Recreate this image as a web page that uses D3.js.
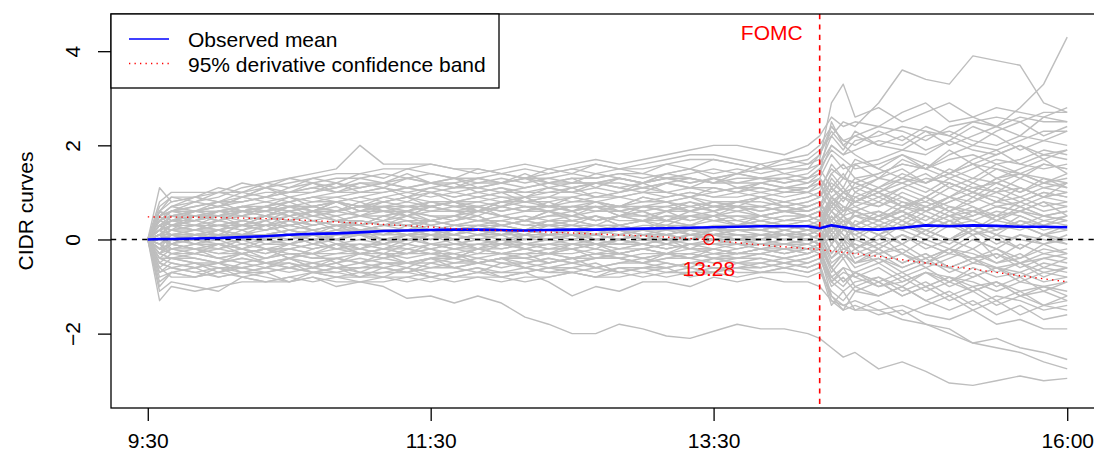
<!DOCTYPE html>
<html>
<head>
<meta charset="utf-8">
<script src="https://cdn.jsdelivr.net/npm/d3@7"></script>
<style>
  body { margin: 0; background: #fff; }
  svg { display: block; }
  text { font-family: "Liberation Sans", Arial, Helvetica, sans-serif; }
</style>
</head>
<body>
<svg id="chart" width="1094" height="457"></svg>
<script>
// Sampling times of the intraday curves (trading session 9:30 - 16:00)
const times = ["9:30","9:35","9:40","9:50","10:00","10:10","10:20","10:30","10:40","10:50","11:00",
  "11:10","11:20","11:30","11:40","11:50","12:00","12:10","12:20",
  "12:30","12:40","12:50","13:00","13:10","13:20","13:30","13:40",
  "13:50","14:00","14:10","14:15","14:20","14:25","14:30",
  "14:40","14:50","15:00","15:10","15:20","15:30","15:40","15:50","16:00"];

// Individual CIDR curves (one value per sampling time)
const curve01 = [0,.8,1.0, 1.0,1.0,1.2,1.1,1.3,1.4,1.5,2.0, 1.6,1.6,1.6,1.5,1.4,1.5,1.6,1.5, 1.6,1.7,1.6,1.7,1.8,1.9,2.0,2.0, 1.9,1.8,2.0, 2.2,2.6,2.4,2.5, 2.4,2.7,2.9,2.5,2.6,2.8,2.7,2.6,2.8];
const curve02 = [0,.5,.7, .8,.9,1.1,1.2,1.3,1.2,1.3,1.3, 1.4,1.3,1.4,1.3,1.3,1.4,1.3,1.4, 1.5,1.4,1.5,1.5,1.6,1.7,1.7,1.6, 1.5,1.6,1.7, 1.9,2.2,2.5,2.4, 2.9,3.6,3.4,3.3,3.9,3.8,3.7,2.9,2.7];
const curve03 = [0,.3,.4, .5,.6,.6,.7,.8,.9,.8,.9, 1.0,1.1,1.0,.9,1.0,1.1,1.0,1.0, 1.1,1.2,1.1,1.2,1.3,1.2,1.3,1.4, 1.3,1.3,1.4, 1.6,2.0,1.8,2.1, 2.2,2.4,2.3,2.2,2.5,2.4,2.8,3.3,4.3];
const curve04 = [0,.4,.6, .7,.8,.8,.9,1.0,1.1,1.0,1.1, 1.2,1.1,1.2,1.1,1.2,1.2,1.3,1.2, 1.3,1.3,1.4,1.4,1.3,1.4,1.5,1.4, 1.5,1.5,1.6, 1.7,2.9,3.3,2.6, 2.8,2.5,2.7,2.9,2.6,2.4,2.6,2.5,2.5];
const curve05 = [0,.6,.9, .9,1.0,1.0,1.1,1.2,1.3,1.4,1.4, 1.5,1.5,1.6,1.5,1.5,1.4,1.5,1.4, 1.5,1.6,1.5,1.6,1.7,1.8,1.8,1.7, 1.6,1.7,1.8, 2.0,2.4,2.1,2.2, 2.0,1.9,2.2,2.3,2.1,2.0,2.2,2.1,2.0];
const curve06 = [0,.3,.5, .6,.7,.9,1.0,1.0,1.1,1.2,1.1, 1.2,1.3,1.2,1.2,1.3,1.2,1.3,1.3, 1.4,1.3,1.4,1.3,1.4,1.5,1.4,1.5, 1.4,1.5,1.5, 1.8,2.3,2.0,2.2, 2.4,2.3,2.1,2.4,2.5,2.6,2.5,2.7,2.7];
const curve07 = [0,.5,.6, .7,.8,.8,.9,1.0,1.0,1.1,1.2, 1.2,1.1,1.2,1.3,1.2,1.3,1.2,1.3, 1.2,1.2,1.3,1.2,1.3,1.3,1.2,1.3, 1.3,1.2,1.3, 1.5,1.9,1.7,1.5, 1.6,1.8,1.5,1.7,1.8,1.6,1.7,1.9,1.8];
const curve08 = [0,.4,.5, .5,.6,.7,.7,.8,.9,.9,1.0, 1.0,1.1,1.0,1.1,1.1,1.0,1.1,1.2, 1.1,1.2,1.2,1.1,1.2,1.3,1.2,1.2, 1.3,1.2,1.3, 1.4,2.5,2.0,1.8, 1.5,1.3,1.6,1.4,1.2,1.5,1.3,1.6,1.5];
const curve09 = [0,.2,.3, .4,.6,.7,.8,.7,.8,.9,.8, .9,1.0,.9,1.0,.9,1.0,1.0,1.1, 1.0,1.1,1.0,1.1,1.2,1.1,1.1,1.0, 1.1,1.0,1.1, 1.3,1.0,1.3,1.2, 1.4,1.6,1.5,1.8,2.0,1.9,2.1,2.3,2.3];
const curve10 = [0,.3,.4, .5,.5,.6,.7,.6,.7,.8,.7, .8,.9,.8,.8,.9,.8,.9,.9, .8,.9,.9,1.0,.9,1.0,.9,1.0, .9,1.0,1.0, 1.1,1.5,1.3,1.2, 1.0,1.2,1.4,1.1,1.3,1.2,1.0,1.2,1.1];
const curve11 = [0,.4,.3, .4,.5,.4,.5,.6,.5,.6,.7, .6,.7,.8,.7,.8,.7,.8,.8, .9,.8,.9,.8,.9,1.0,.9,.9, 1.0,.9,1.0, .9,1.4,1.6,1.3, 1.4,1.6,1.5,1.3,1.5,1.7,1.6,1.5,1.6];
const curve12 = [0,.2,.4, .5,.5,.6,.6,.7,.7,.6,.7, .8,.7,.7,.8,.7,.8,.8,.7, .8,.8,.7,.8,.8,.9,.8,.8, .9,.8,.9, 1.0,.6,.3,.5, .4,.2,.5,.3,.1,.3,.2,.4,.3];
const curve13 = [0,.3,.2, .3,.4,.5,.4,.5,.6,.5,.6, .6,.5,.6,.6,.7,.6,.7,.6, .7,.7,.6,.7,.7,.8,.7,.8, .8,.7,.8, .9,1.2,1.0,1.1, .9,1.1,1.3,1.2,1.0,1.3,1.4,1.2,1.3];
const curve14 = [0,.5,.6, .6,.7,.6,.7,.6,.7,.8,.7, .7,.8,.7,.8,.8,.9,.8,.9, .9,1.0,.9,1.0,1.0,.9,1.0,1.1, 1.0,1.1,1.1, 1.3,1.8,1.5,1.6, 1.7,1.9,1.8,2.1,1.9,1.8,2.0,1.8,1.9];
const curve15 = [0,.2,.3, .3,.3,.4,.5,.4,.5,.4,.5, .5,.6,.5,.5,.6,.5,.6,.6, .5,.6,.6,.5,.6,.6,.7,.6, .7,.6,.7, .8,.4,.6,.8, .7,.9,.6,.8,1.0,.9,.7,.9,1.0];
const curve16 = [0,.1,.2, .3,.2,.3,.3,.4,.3,.4,.4, .3,.4,.4,.5,.4,.5,.4,.5, .5,.4,.5,.5,.4,.5,.5,.6, .5,.6,.6, .7,1.1,.9,.8, 1.0,.8,.7,.9,.8,1.0,1.1,.9,.8];
const curve17 = [0,.3,.2, .2,.3,.3,.2,.3,.4,.3,.3, .4,.3,.4,.3,.4,.4,.3,.4, .4,.5,.4,.4,.5,.4,.5,.5, .4,.5,.5, .6,.2,.4,.3, .5,.6,.4,.7,.6,.5,.6,.8,.7];
const curve18 = [0,.1,.1, .2,.2,.1,.2,.3,.2,.3,.2, .3,.3,.2,.3,.3,.4,.3,.3, .4,.3,.3,.4,.4,.3,.4,.4, .3,.4,.4, .5,.9,.7,.6, .8,.6,.9,.7,.5,.7,.6,.4,.5];
const curve19 = [0,-.1,.1, .1,.2,.1,.1,.2,.1,.2,.2, .2,.1,.2,.2,.3,.2,.2,.3, .2,.3,.3,.2,.3,.3,.2,.3, .3,.3,.3, .4,-.1,.2,.1, .3,.2,.0,.3,.4,.2,.3,.1,.2];
const curve20 = [0,.2,.1, .1,.0,.1,.1,.0,.1,.1,.2, .1,.1,.2,.1,.2,.1,.2,.2, .1,.2,.2,.2,.1,.2,.2,.2, .2,.3,.2, .3,.7,.5,.6, .4,.7,.8,.6,.9,.7,.8,1.0,.9];
const curve21 = [0,.0,.1, .0,.1,.1,.0,.1,.0,.1,.1, .0,.1,.1,.0,.1,.1,.2,.1, .1,.1,.2,.1,.1,.2,.1,.2, .2,.1,.2, .2,-.3,.0,-.2, .1,-.1,.2,.0,-.2,.1,.0,-.1,.1];
const curve22 = [0,-.2,-.1, .0,-.1,.0,.0,-.1,.0,.0,.1, .0,.0,.1,.0,.1,.0,.1,.1, .0,.1,.0,.1,.1,.0,.1,.1, .1,.1,.1, .2,.6,.4,.5, .3,.5,.7,.5,.4,.6,.5,.3,.5];
const curve23 = [0,-.1,-.2, -.1,-.1,-.2,-.1,-.1,-.2,-.1,-.1, -.1,.0,-.1,-.1,.0,-.1,.0,.0, -.1,.0,-.1,.0,.0,.0,.1,.0, .0,.1,.0, .1,-.4,-.2,-.3, -.1,-.3,-.5,-.2,-.4,-.3,-.5,-.4,-.3];
const curve24 = [0,.1,-.1, -.2,-.2,-.1,-.2,-.2,-.1,-.2,-.2, -.1,-.2,-.1,-.2,-.1,-.1,-.1,-.2, -.1,-.1,-.1,-.1,.0,-.1,-.1,.0, -.1,.0,-.1, .0,.5,.2,.3, .1,.3,.2,.4,.1,.2,.4,.3,.2];
const curve25 = [0,-.3,-.2, -.2,-.3,-.3,-.2,-.3,-.3,-.2,-.3, -.2,-.2,-.3,-.2,-.2,-.2,-.1,-.2, -.2,-.1,-.2,-.1,-.2,-.1,-.1,-.1, -.1,-.1,-.1, .0,-.6,-.3,-.5, -.4,-.6,-.4,-.7,-.5,-.6,-.8,-.6,-.7];
const curve26 = [0,-.2,-.3, -.3,-.4,-.3,-.4,-.3,-.4,-.4,-.3, -.4,-.3,-.3,-.4,-.3,-.3,-.2,-.3, -.3,-.2,-.3,-.2,-.3,-.2,-.2,-.3, -.2,-.2,-.2, -.1,.3,.0,.2, -.1,.1,-.2,.0,.2,-.1,.1,.0,-.1];
const curve27 = [0,-.4,-.4, -.4,-.5,-.4,-.5,-.4,-.5,-.4,-.5, -.4,-.5,-.4,-.4,-.5,-.4,-.4,-.3, -.4,-.3,-.4,-.3,-.3,-.4,-.3,-.3, -.3,-.2,-.3, -.2,-.8,-.6,-.7, -.9,-.7,-1.0,-.8,-.9,-1.1,-.9,-1.0,-1.2];
const curve28 = [0,-.5,-.6, -.5,-.6,-.6,-.5,-.6,-.5,-.6,-.6, -.5,-.5,-.6,-.5,-.5,-.4,-.5,-.4, -.5,-.4,-.4,-.5,-.4,-.3,-.4,-.4, -.3,-.4,-.3, -.2,-.6,-.9,-.7, -.5,-.8,-.6,-.9,-1.1,-.9,-1.2,-1.4,-1.3];
const curve29 = [0,-.7,-.6, -.7,-.6,-.7,-.6,-.7,-.6,-.7,-.6, -.6,-.7,-.6,-.6,-.5,-.6,-.5,-.6, -.5,-.6,-.5,-.5,-.6,-.5,-.4,-.5, -.5,-.4,-.5, -.4,-1.0,-.8,-1.1, -1.2,-1.0,-1.3,-1.5,-1.3,-1.6,-1.4,-1.7,-1.6];
const curve30 = [0,-1.3,-1.0, -1.1,-1.0,-.9,-.9,-.8,-.9,-.8,-.9, -.8,-.8,-.7,-.8,-.7,-.7,-.6,-.7, -.7,-.6,-.7,-.6,-.6,-.5,-.6,-.6, -.5,-.6,-.5, -.4,-.9,-.7,-.8, -1.0,-.9,-.7,-.8,-1.0,-.9,-1.1,-1.0,-.9];
const curve31 = [0,-1.1,-.9, -1.0,-1.1,-.8,-.9,-.9,-.8,-1.0,-.9, -.9,-.8,-.9,-.8,-.8,-.9,-.8,-.8, -.7,-.8,-.7,-.8,-.7,-.7,-.6,-.7, -.7,-.6,-.7, -.6,-1.2,-1.4,-1.3, -1.5,-1.4,-1.6,-1.7,-1.5,-1.8,-1.7,-1.9,-1.9];
const curve32 = [0,-.6,-.8, -.8,-.7,-.8,-.9,-.8,-.7,-.8,-.8, -.7,-.7,-.8,-.7,-.6,-.7,-.7,-.6, -.6,-.7,-.6,-.6,-.7,-.6,-.7,-.6, -.6,-.5,-.6, -.5,-1.3,-1.5,-1.4, -1.6,-1.5,-1.8,-2.0,-2.2,-2.1,-2.3,-2.4,-2.55];
const curve33 = [0,-.3,-.4, -.5,-.5,-.6,-.5,-.6,-.7,-.6,-.7, -.7,-.6,-.7,-.8,-.7,-.8,-.7,-.9, -1.2,-1.0,-1.1,-.9,-.9,-1.0,-.8,-.9, -.8,-.9,-.9, -1.0,-1.3,-1.4,-1.5, -1.5,-1.7,-1.8,-1.9,-2.2,-2.3,-2.4,-2.6,-2.75];
const curve34 = [0,-.5,-.6, -.7,-.8,-.7,-.8,-.9,-.8,-.9,-.9, -1.0,-1.25,-1.2,-1.35,-1.2,-1.35,-1.65,-1.8, -2.0,-2.0,-1.8,-1.9,-2.05,-2.1,-1.95,-1.8, -1.9,-1.9,-2.0, -2.1,-2.3,-2.5,-2.4, -2.75,-2.6,-2.8,-3.05,-3.1,-3.0,-2.9,-3.0,-2.95];
const curve35 = [0,-.8,-.7, -.6,-.8,-.7,-.7,-.6,-.7,-.7,-.8, -.8,-.9,-.8,-.9,-.8,-.8,-.9,-.8, -.7,-.8,-.8,-.7,-.8,-.7,-.7,-.8, -.7,-.7,-.8, -.7,-1.1,-1.3,-1.0, -1.2,-1.0,-1.3,-1.1,-1.4,-1.2,-1.3,-1.5,-1.4];
const curve36 = [0,-.4,-.5, -.6,-.5,-.4,-.5,-.5,-.6,-.5,-.4, -.5,-.5,-.4,-.5,-.4,-.5,-.5,-.4, -.5,-.4,-.4,-.5,-.4,-.4,-.5,-.4, -.4,-.5,-.4, -.3,-1.2,-1.5,-1.1, -.9,-1.2,-1.0,-.8,-1.1,-.9,-1.2,-1.0,-1.1];
const curve37 = [0,.2,.3, .2,.3,.2,.3,.4,.3,.4,.3, .4,.5,.4,.5,.4,.4,.5,.4, .5,.4,.5,.4,.5,.5,.4,.5, .5,.4,.5, .4,.0,.3,.1, -.2,.1,-.1,-.3,.0,-.2,-.4,-.1,-.3];
const curve38 = [0,.0,-.1, -.2,-.1,-.2,-.3,-.2,-.1,-.2,-.1, -.2,-.1,-.2,-.1,-.1,-.2,-.1,-.1, .0,-.1,.0,-.1,.0,.1,.0,.0, .1,.0,.1, .2,.8,.6,.7, .9,.7,.6,.8,1.0,.8,.9,1.1,1.0];
const curve39 = [0,.3,.4, .4,.3,.4,.3,.3,.4,.3,.4, .3,.3,.4,.3,.3,.3,.4,.3, .3,.3,.2,.3,.3,.2,.3,.3, .3,.2,.3, .3,.7,1.0,.8, 1.1,1.3,1.2,1.4,1.6,1.5,1.4,1.6,1.5];
const curve40 = [0,-.1,.0, .1,.2,.3,.2,.3,.2,.3,.3, .2,.2,.3,.2,.2,.3,.2,.2, .3,.2,.2,.1,.2,.2,.1,.2, .2,.1,.2, .1,-.5,-.3,-.6, -.4,-.7,-.5,-.6,-.8,-.6,-.7,-.9,-.8];
const curve41 = [0,.4,.5, .4,.5,.5,.6,.5,.6,.6,.5, .6,.6,.7,.6,.6,.7,.6,.7, .6,.7,.7,.6,.7,.6,.7,.7, .6,.7,.6, .7,1.3,1.0,1.1, 1.3,1.2,1.0,1.3,1.1,1.2,1.4,1.3,1.2];
const curve42 = [0,.1,.2, .1,.1,.0,.1,.1,.2,.1,.1, .1,.2,.1,.1,.2,.1,.1,.0, .1,.1,.0,.1,.0,.1,.1,.0, .1,.1,.0, -.1,.3,.1,-.1, -.3,-.2,-.5,-.3,-.4,-.6,-.5,-.7,-.6];
const curve43 = [0,-.2,-.2, -.3,-.2,-.3,-.2,-.2,-.3,-.3,-.2, -.3,-.3,-.2,-.3,-.2,-.3,-.3,-.2, -.2,-.3,-.2,-.2,-.1,-.2,-.2,-.1, -.2,-.1,-.2, -.1,.2,.4,.3, .5,.3,.6,.4,.5,.7,.6,.5,.4];
const curve44 = [0,.6,.5, .6,.6,.7,.6,.7,.7,.6,.7, .7,.7,.6,.7,.7,.6,.7,.7, .7,.6,.7,.7,.6,.7,.8,.7, .7,.8,.7, .8,.4,.7,.5, .6,.4,.7,.5,.6,.8,.7,.5,.6];
const curve45 = [0,1.1,.8, .9,.8,.9,.8,.9,.8,.8,.9, .8,.9,1.0,.9,1.0,.9,.9,1.0, 1.0,.9,1.0,1.1,1.0,1.1,1.0,1.1, 1.1,1.0,1.1, 1.2,.8,1.0,.9, 1.1,.9,.7,.9,1.1,1.0,.8,1.0,.9];
const curve46 = [0,-1.0,-.7, -.8,-.7,-.6,-.7,-.6,-.5,-.6,-.5, -.6,-.5,-.5,-.4,-.5,-.4,-.4,-.5, -.4,-.4,-.3,-.4,-.3,-.3,-.4,-.3, -.3,-.2,-.3, -.2,.1,-.2,-.1, -.3,-.1,-.4,-.2,-.3,-.5,-.4,-.2,-.3];
const curve47 = [0,.2,.5, .6,.7,.8,.9,.8,.9,1.0,1.0, 1.1,1.0,1.1,1.0,1.1,1.2,1.1,1.2, 1.2,1.2,1.3,1.2,1.3,1.2,1.3,1.2, 1.2,1.3,1.2, 1.4,2.0,1.8,1.9, 2.1,2.0,2.3,2.0,2.2,2.4,2.2,2.6,2.5];
const curve48 = [0,-.3,-.4, -.3,-.4,-.5,-.4,-.3,-.4,-.3,-.3, -.3,-.4,-.3,-.3,-.4,-.3,-.3,-.3, -.4,-.3,-.3,-.4,-.3,-.3,-.2,-.3, -.2,-.3,-.2, -.2,-.9,-1.1,-.9, -.8,-1.0,-.7,-.9,-.6,-.8,-.7,-.5,-.6];
const curve49 = [0,.1,.0, .0,.1,.0,.1,.2,.1,.2,.1, .2,.2,.1,.2,.2,.1,.2,.1, .2,.2,.1,.2,.2,.1,.2,.2, .2,.3,.2, .3,.9,.7,.6, .4,.6,.3,.5,.2,.4,.3,.5,.4];
const curve50 = [0,.4,.6, .8,.7,.9,1.1,1.0,1.2,1.1,1.3, 1.2,1.4,1.2,1.3,1.1,1.2,1.3,1.1, 1.2,1.4,1.3,1.2,1.4,1.5,1.3,1.4, 1.6,1.4,1.5, 1.6,2.2,1.9,2.3, 2.0,2.2,1.9,2.1,2.4,2.2,1.9,2.1,2.3];
const curve51 = [0,.3,.2, .5,.4,.6,.5,.7,.6,.8,.7, .9,.8,1.0,.8,.9,1.0,.8,.9, 1.1,.9,1.0,1.2,1.0,.9,1.1,1.0, 1.2,1.1,1.0, 1.2,.7,1.0,1.3, 1.1,1.4,1.2,1.5,1.3,1.6,1.4,1.2,1.4];
const curve52 = [0,.5,.3, .4,.6,.5,.7,.5,.6,.8,.6, .7,.5,.7,.8,.6,.7,.9,.7, .6,.8,.7,.9,.8,.6,.8,.7, .9,.7,.8, .9,1.4,1.1,1.6, 1.3,1.7,1.5,1.9,1.6,1.8,2.0,1.7,1.9];
const curve53 = [0,.2,.4, .3,.5,.3,.4,.6,.4,.5,.3, .5,.6,.4,.5,.7,.5,.4,.6, .5,.7,.5,.6,.4,.6,.5,.7, .5,.6,.5, .6,.1,.4,.0, .3,-.1,.2,.0,.3,.1,-.2,.1,.0];
const curve54 = [0,.1,.3, .2,.4,.3,.5,.3,.4,.2,.4, .3,.5,.3,.4,.5,.3,.4,.6, .4,.3,.5,.4,.6,.4,.5,.3, .5,.4,.5, .4,.9,.6,.8, 1.0,.7,.9,.6,.8,1.1,.9,.7,.8];
const curve55 = [0,.3,.1, .2,.3,.2,.4,.2,.3,.4,.2, .3,.4,.2,.3,.4,.3,.2,.4, .3,.5,.3,.2,.4,.3,.5,.3, .4,.3,.4, .5,-.1,.3,-.2, .1,-.3,.0,-.2,.1,-.4,-.1,-.3,-.2];
const curve56 = [0,-.2,.1, .0,.2,.1,.3,.1,.2,.0,.2, .1,.3,.2,.1,.3,.2,.1,.3, .2,.1,.3,.2,.3,.1,.2,.3, .2,.3,.2, .3,.8,.5,.9, .7,1.0,.8,1.1,.9,1.2,1.0,1.3,1.1];
const curve57 = [0,.2,-.1, .1,.0,.2,.0,.1,-.1,.1,.2, .0,.1,.2,.0,.1,.2,.0,.1, .2,.0,.1,.2,.1,.0,.2,.1, .0,.2,.1, .0,-.6,-.3,-.5, -.2,-.5,-.3,-.6,-.4,-.2,-.5,-.3,-.4];
const curve58 = [0,-.3,.0, -.1,.1,-.1,.0,.1,-.1,.0,-.2, .0,-.1,.1,-.1,.0,.1,-.1,.0, .1,-.1,.0,.1,-.1,.0,.1,.0, .1,.0,.1, .0,.5,.2,.6, .4,.7,.5,.3,.6,.4,.7,.5,.6];
const curve59 = [0,.1,-.2, -.1,-.2,.0,-.2,-.1,.0,-.2,-.1, -.2,.0,-.1,-.2,-.1,.0,-.2,-.1, -.1,-.2,.0,-.1,-.2,-.1,.0,-.1, -.2,-.1,.0, -.1,-.7,-.4,-.8, -.6,-.9,-.7,-1.0,-.8,-.6,-.9,-.7,-.8];
const curve60 = [0,-.4,-.2, -.3,-.1,-.3,-.2,-.4,-.2,-.1,-.3, -.2,-.3,-.1,-.2,-.3,-.1,-.2,-.3, -.2,-.1,-.3,-.2,-.1,-.2,-.3,-.2, -.1,-.2,-.1, -.2,.3,.0,.4, .2,.5,.3,.6,.4,.2,.5,.3,.4];
const curve61 = [0,-.1,-.3, -.2,-.4,-.3,-.2,-.4,-.3,-.5,-.3, -.4,-.2,-.3,-.4,-.2,-.3,-.4,-.3, -.2,-.4,-.3,-.2,-.3,-.4,-.2,-.3, -.2,-.3,-.2, -.3,-.9,-.6,-1.0, -.8,-1.1,-.9,-1.2,-1.0,-1.3,-1.1,-1.4,-1.2];
const curve62 = [0,-.5,-.3, -.4,-.5,-.3,-.5,-.4,-.6,-.4,-.5, -.3,-.5,-.4,-.3,-.5,-.4,-.3,-.5, -.4,-.3,-.4,-.5,-.3,-.4,-.3,-.4, -.3,-.4,-.3, -.2,.1,-.3,.0, -.2,.1,-.1,-.3,.0,-.2,.1,-.1,.0];
const curve63 = [0,-.6,-.4, -.5,-.7,-.5,-.6,-.4,-.6,-.5,-.7, -.5,-.6,-.4,-.6,-.5,-.4,-.6,-.5, -.4,-.6,-.5,-.4,-.5,-.6,-.4,-.5, -.4,-.5,-.4, -.3,-.8,-1.0,-.7, -.9,-1.2,-1.0,-1.3,-1.1,-1.4,-1.2,-1.1,-1.3];
const curve64 = [0,.4,.6, .5,.4,.6,.5,.7,.5,.6,.8, .6,.5,.7,.6,.5,.7,.6,.8, .6,.7,.5,.7,.6,.8,.6,.7, .6,.7,.6, .7,.2,.5,.3, .6,.4,.1,.4,.2,.5,.3,.1,.3];
const curve65 = [0,.6,.4, .6,.8,.6,.7,.9,.7,.8,.6, .8,.9,.7,.8,.6,.8,.9,.7, .9,.8,.7,.9,.8,.9,.7,.8, .9,.8,.9, 1.0,1.6,1.3,1.7, 1.5,1.8,1.6,1.4,1.7,1.9,1.6,1.8,1.7];
const curve66 = [0,.7,.9, .8,1.0,.9,1.1,.9,1.0,1.2,1.0, 1.1,.9,1.1,1.2,1.0,1.1,.9,1.1, 1.0,1.2,1.1,1.0,1.2,1.1,1.3,1.1, 1.2,1.1,1.2, 1.3,.9,1.1,.8, 1.0,.7,.9,1.2,1.0,.8,1.1,.9,1.0];
const curve67 = [0,.6,.8, .9,1.1,1.0,1.2,1.1,1.3,1.2,1.4, 1.3,1.5,1.4,1.3,1.5,1.4,1.3,1.5, 1.4,1.6,1.5,1.4,1.6,1.5,1.7,1.6, 1.5,1.7,1.6, 1.8,2.4,2.1,2.0, 2.3,2.1,2.4,2.2,2.0,2.3,2.5,2.2,2.4];
const curve68 = [0,.2,.4, .3,.2,.4,.3,.5,.3,.4,.3, .5,.4,.3,.4,.5,.3,.4,.3, .4,.5,.3,.4,.3,.5,.4,.3, .4,.3,.4, .3,-.3,.0,-.4, -.2,-.5,-.3,-.6,-.4,-.7,-.5,-.8,-.6];
const curve69 = [0,.0,.2, .1,.2,.0,.1,.2,.1,.3,.1, .2,.1,.0,.2,.1,.2,.0,.1, .2,.1,.2,.0,.1,.2,.1,.2, .1,.2,.1, .2,.6,.9,.7, .5,.8,.6,.9,.7,.5,.8,.6,.7];
const curve70 = [0,-.1,.1, -.1,.0,-.2,.0,-.1,.1,-.1,.0, -.1,.1,-.1,.0,-.2,.0,-.1,.0, .1,-.1,.0,-.1,.0,-.2,.0,-.1, .0,-.1,.0, -.1,.4,.1,-.2, .0,.3,.1,-.1,.2,.0,-.2,.1,-.1];
const curve71 = [0,-.3,-.1, -.2,-.3,-.2,-.4,-.2,-.3,-.1,-.3, -.2,-.3,-.2,-.4,-.2,-.3,-.2,-.3, -.1,-.2,-.3,-.2,-.3,-.1,-.2,-.3, -.2,-.3,-.2, -.1,-.6,-.9,-.7, -1.0,-.8,-1.1,-.9,-.7,-1.0,-.8,-1.1,-.9];
const curve72 = [0,.4,.3, .5,.4,.3,.5,.4,.6,.4,.5, .4,.6,.5,.4,.6,.5,.4,.5, .6,.4,.5,.6,.4,.5,.6,.4, .5,.6,.5, .6,1.1,.8,1.2, 1.0,1.3,1.1,.9,1.2,1.0,1.3,1.1,1.2];
const curve73 = [0,.5,.7, .6,.5,.7,.6,.8,.6,.7,.5, .7,.6,.8,.7,.6,.8,.7,.6, .7,.8,.6,.7,.8,.7,.6,.8, .7,.6,.7, .8,.3,.5,.2, .4,.6,.3,.5,.7,.4,.6,.8,.5];
const curve74 = [0,-.7,-.5, -.6,-.5,-.7,-.6,-.5,-.7,-.6,-.8, -.6,-.7,-.5,-.6,-.7,-.5,-.6,-.7, -.6,-.5,-.7,-.6,-.5,-.6,-.7,-.5, -.6,-.5,-.6, -.5,-.1,-.4,-.2, -.5,-.3,-.6,-.4,-.2,-.5,-.3,-.6,-.4];
const curve75 = [0,-.9,-.7, -.8,-.6,-.8,-.7,-.9,-.7,-.8,-.7, -.8,-.6,-.8,-.7,-.6,-.8,-.7,-.6, -.7,-.8,-.6,-.7,-.6,-.8,-.7,-.6, -.7,-.6,-.7, -.6,-1.4,-1.1,-1.5, -1.3,-1.6,-1.4,-1.2,-1.5,-1.3,-1.6,-1.4,-1.5];
const curve76 = [0,.5,.7, .9,.8,1.0,.9,1.1,1.2,1.0,1.2, 1.1,1.3,1.2,1.1,1.3,1.2,1.4,1.2, 1.3,1.1,1.3,1.2,1.4,1.3,1.2,1.4, 1.3,1.4,1.3, 1.5,1.1,1.4,1.0, 1.3,1.5,1.2,1.4,1.6,1.3,1.5,1.7,1.4];
const curve77 = [0,.1,.3, .2,.1,.3,.2,.4,.2,.3,.2, .3,.2,.4,.3,.2,.3,.2,.4, .3,.2,.3,.4,.2,.3,.2,.3, .4,.3,.2, .3,.9,.6,1.0, .8,1.1,.9,1.2,1.0,1.3,1.1,.9,1.2];
const curve78 = [0,.0,-.1, .1,.0,.1,-.1,.0,.1,.0,.1, -.1,.1,.0,.1,.0,-.1,.1,.0, .1,.0,.1,.0,-.1,.1,.0,.1, .0,.1,.0, .1,-.4,-.1,-.5, -.3,-.6,-.4,-.2,-.5,-.3,-.6,-.4,-.5];
const curve79 = [0,-.2,-.1, -.2,-.1,-.2,-.3,-.1,-.2,-.1,-.2, -.3,-.1,-.2,-.1,-.2,-.1,-.2,-.1, -.2,-.1,-.2,-.1,-.2,-.1,-.1,-.2, -.1,-.1,-.2, -.1,.2,-.1,.3, .1,.4,.2,.0,.3,.1,.4,.2,.3];

const curves = [curve01,curve02,curve03,curve04,curve05,curve06,curve07,curve08,curve09,curve10,
  curve11,curve12,curve13,curve14,curve15,curve16,curve17,curve18,curve19,curve20,
  curve21,curve22,curve23,curve24,curve25,curve26,curve27,curve28,curve29,curve30,
  curve31,curve32,curve33,curve34,curve35,curve36,curve37,curve38,curve39,curve40,
  curve41,curve42,curve43,curve44,curve45,curve46,curve47,curve48,curve49,curve50,
  curve51,curve52,curve53,curve54,curve55,curve56,curve57,curve58,curve59,curve60,
  curve61,curve62,curve63,curve64,curve65,curve66,curve67,curve68,curve69,curve70,
  curve71,curve72,curve73,curve74,curve75,curve76,curve77,curve78,curve79];

// Cross-sectional mean of the curves
const meanCurve = [0,.01,.01, .02,.03,.05,.07,.10,.12,.13,.15, .18,.19,.20,.21,.21,.20,.19,.20, .21,.21,.22,.23,.24,.25,.26,.27, .28,.28,.28, .24,.30,.26,.22, .21,.25,.30,.28,.30,.29,.27,.27,.26];

// Derivative confidence band (lower bound), crossing zero at 13:28
const bandTimes  = ["9:30","9:55","10:23","10:44","11:05","11:25","11:47","12:08","12:29","12:43","13:03","13:24","13:28","13:38","13:53","14:14","14:40","15:00","15:20","15:40","16:00"];
const bandValues = [.48,.47,.44,.39,.33,.28,.21,.18,.14,.11,.07,.01,0,-.06,-.13,-.21,-.36,-.5,-.63,-.77,-.9];

const xTickLabels = ["9:30","11:30","13:30","16:00"];
const yTickValues = [-2,0,2,4];
const fomcTime = "14:15";
const crossingTime = "13:28";
const legendLabels = ["Observed mean","95% derivative confidence band"];

// ---- drawing ----
const toMin = s => { const [h, m] = s.split(":").map(Number); return h * 60 + m - 570; };
const tMin = times.map(toMin);

const plot = { left: 111, right: 1104, top: 14, bottom: 408 };
const x = d3.scaleLinear().domain([-15.6, 405.6]).range([plot.left, plot.right]);
const y = d3.scaleLinear().domain([-3.58, 4.79]).range([plot.bottom, plot.top]);

const svg = d3.select("#chart");
const FONT = 21;

const line = d3.line().x(d => x(d[0])).y(d => y(d[1]));

// gray curves
svg.append("g").selectAll("path").data(curves).join("path")
  .attr("d", c => line(c.map((v, i) => [tMin[i], v])))
  .attr("fill", "none").attr("stroke", "#bebebe").attr("stroke-width", 1.4)
  .attr("stroke-linejoin", "round");

// zero reference
svg.append("line")
  .attr("x1", plot.left).attr("x2", plot.right).attr("y1", y(0)).attr("y2", y(0))
  .attr("stroke", "#000").attr("stroke-width", 1.3).attr("stroke-dasharray", "5.2 5.2");

// mean curve
svg.append("path")
  .attr("d", line(meanCurve.map((v, i) => [tMin[i], v])))
  .attr("fill", "none").attr("stroke", "#0000ff").attr("stroke-width", 2.6)
  .attr("stroke-linejoin", "round");

// confidence band
svg.append("path")
  .attr("d", line(bandValues.map((v, i) => [toMin(bandTimes[i]), v])))
  .attr("fill", "none").attr("stroke", "#ff0000").attr("stroke-width", 1.4)
  .attr("stroke-dasharray", "1.4 4.2");

// FOMC announcement
const xf = x(toMin(fomcTime));
svg.append("line")
  .attr("x1", xf).attr("x2", xf).attr("y1", plot.top).attr("y2", plot.bottom)
  .attr("stroke", "#ff0000").attr("stroke-width", 1.6).attr("stroke-dasharray", "5.2 5.2");
svg.append("text").attr("x", xf - 17).attr("y", 40).attr("text-anchor", "end")
  .attr("font-size", FONT).attr("fill", "#ff0000").text("FOMC");

// zero crossing of the band
const xc = x(toMin(crossingTime));
svg.append("circle").attr("cx", xc).attr("cy", y(0)).attr("r", 5)
  .attr("fill", "none").attr("stroke", "#ff0000").attr("stroke-width", 1.3);
svg.append("text").attr("x", xc).attr("y", 276).attr("text-anchor", "middle")
  .attr("font-size", FONT).attr("fill", "#ff0000").text(crossingTime);

// axes
const xAxis = d3.axisBottom(x)
  .tickValues(xTickLabels.map(toMin))
  .tickFormat((d, i) => xTickLabels[i])
  .tickSize(13).tickPadding(12);
const gx = svg.append("g").attr("transform", `translate(0,${plot.bottom})`).call(xAxis);
gx.select(".domain").remove();
gx.selectAll("line").attr("stroke-width", 1.3);
gx.selectAll("text").attr("font-size", FONT).attr("fill", "#000")
  .attr("font-family", '"Liberation Sans", Arial, sans-serif');

const yAxis = d3.axisLeft(y).tickValues(yTickValues)
  .tickFormat(d => d < 0 ? "\u2212" + Math.abs(d) : String(d)).tickSize(13);
const gy = svg.append("g").attr("transform", `translate(${plot.left},0)`).call(yAxis);
gy.select(".domain").remove();
gy.selectAll("line").attr("stroke-width", 1.3);
gy.selectAll("text").attr("font-size", FONT).attr("fill", "#000")
  .attr("font-family", '"Liberation Sans", Arial, sans-serif')
  .attr("x", null).attr("dy", null).attr("text-anchor", "middle")
  .attr("transform", "translate(-31,0) rotate(-90)");

svg.append("text").attr("transform", `translate(33,${(plot.top + plot.bottom) / 2}) rotate(-90)`)
  .attr("text-anchor", "middle").attr("font-size", FONT).text("CIDR curves");

// plot frame
svg.append("rect").attr("x", plot.left).attr("y", plot.top)
  .attr("width", plot.right - plot.left).attr("height", plot.bottom - plot.top)
  .attr("fill", "none").attr("stroke", "#000").attr("stroke-width", 1.3);

// legend
const lg = svg.append("g");
lg.append("rect").attr("x", 111).attr("y", 14).attr("width", 388).attr("height", 74)
  .attr("fill", "#fff").attr("stroke", "#000").attr("stroke-width", 1.3);
lg.append("line").attr("x1", 129).attr("x2", 169).attr("y1", 39).attr("y2", 39)
  .attr("stroke", "#0000ff").attr("stroke-width", 1.3);
lg.append("line").attr("x1", 129).attr("x2", 169).attr("y1", 63.5).attr("y2", 63.5)
  .attr("stroke", "#ff0000").attr("stroke-width", 1.3).attr("stroke-dasharray", "1.3 4.2");
lg.selectAll("text.lab").data(legendLabels).join("text").attr("class", "lab")
  .attr("x", 188).attr("y", (d, i) => 46.7 + i * 25).attr("font-size", FONT).text(d => d);
</script>
</body>
</html>
